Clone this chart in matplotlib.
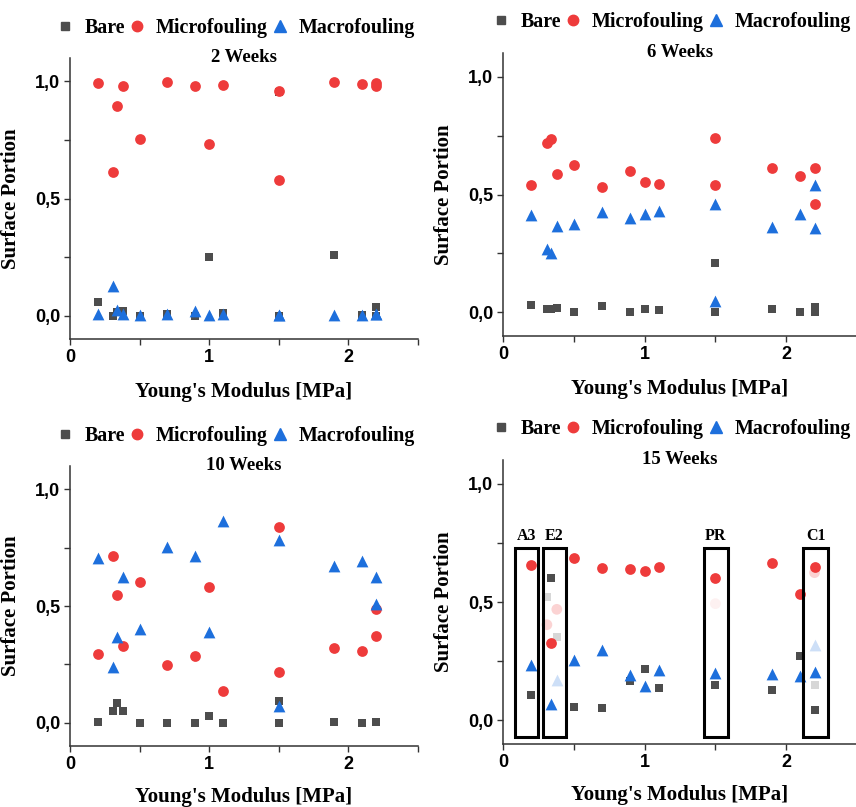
import matplotlib
matplotlib.use("Agg")
import matplotlib.pyplot as plt
from matplotlib.ticker import FixedLocator, FuncFormatter
from matplotlib.lines import Line2D
from matplotlib.patches import Rectangle

# ---------------- data ----------------
modulus = [0.2, 0.31, 0.34, 0.38, 0.5, 0.7, 0.9, 1.0, 1.1, 1.5, 1.5, 1.9, 2.1, 2.2, 2.2]

w2_bare = [0.06, 0.0, 0.015, 0.02, 0.0, 0.007, 0.0, 0.25, 0.011, 0.953, 0.0, 0.26, 0.003, 0.036, 0.0]
w2_micro = [0.993, 0.612, 0.895, 0.981, 0.755, 0.996, 0.981, 0.731, 0.984, 0.958, 0.58, 0.996, 0.987, 0.993, 0.981]
w2_macro = [0.007, 0.125, 0.024, 0.007, 0.003, 0.007, 0.02, 0.004, 0.007, 0.003, 0.003, 0.004, 0.004, 0.007, 0.007]

w6_bare = [0.031, 0.015, 0.013, 0.02, 0.003, 0.027, 0.0, 0.015, 0.01, 0.211, 0.003, 0.015, 0.0, 0.021, 0.0]
w6_micro = [0.542, 0.717, 0.734, 0.587, 0.625, 0.532, 0.601, 0.555, 0.545, 0.739, 0.539, 0.611, 0.577, 0.613, 0.46]
w6_macro = [0.411, 0.27, 0.254, 0.366, 0.373, 0.425, 0.401, 0.418, 0.432, 0.458, 0.049, 0.362, 0.418, 0.541, 0.358]

w10_bare = [0.004, 0.052, 0.086, 0.052, 0.0, 0.0, 0.0, 0.03, 0.0, 0.093, 0.0, 0.004, 0.0, 0.001, 0.001]
w10_micro = [0.295, 0.713, 0.549, 0.327, 0.603, 0.246, 0.285, 0.583, 0.136, 0.84, 0.216, 0.321, 0.309, 0.487, 0.371]
w10_macro = [0.705, 0.238, 0.367, 0.625, 0.401, 0.754, 0.716, 0.388, 0.865, 0.785, 0.073, 0.673, 0.695, 0.625, 0.51]

w15_modulus = [0.2, 0.34, 0.5, 0.7, 0.9, 1.0, 1.1, 1.5, 1.9, 2.1, 2.2]
w15_bare = [0.106, 0.6, 0.055, 0.054, 0.166, 0.218, 0.137, 0.151, 0.13, 0.27, 0.042]
w15_micro = [0.655, 0.327, 0.686, 0.645, 0.641, 0.632, 0.646, 0.601, 0.665, 0.535, 0.646]
w15_macro = [0.232, 0.07, 0.256, 0.299, 0.19, 0.144, 0.211, 0.201, 0.197, 0.187, 0.204]

# faded (excluded) replicates in the 15-week panel
w15_faded_bare_x = [0.31, 0.38, 2.2]
w15_faded_bare = [0.521, 0.352, 0.151]
w15_faded_micro_x = [0.31, 0.38, 1.5, 2.2]
w15_faded_micro = [0.404, 0.469, 0.493, 0.624]
w15_faded_macro_x = [0.38, 2.2]
w15_faded_macro = [0.172, 0.317]

# highlighted samples (15 weeks)
box_labels = ["A3", "E2", "PR", "C1"]
box_x0 = [0.085, 0.28, 1.416, 2.122]
box_x1 = [0.25, 0.442, 1.588, 2.294]
box_y0 = -0.07
box_y1 = 0.73

titles = ["2 Weeks", "6 Weeks", "10 Weeks", "15 Weeks"]
series_names = ["Bare", "Microfouling", "Macrofouling"]

# ---------------- style ----------------
C_BARE = "#4d4d4d"
C_MICRO = "#ee3b3b"
C_MACRO = "#1d6fdc"
SERIF = ["Liberation Serif", "DejaVu Serif"]
SANS = ["Liberation Sans", "DejaVu Sans"]

S_SQ = 38
S_CI = 60
S_TR = 72

W, H = 856, 807
fig = plt.figure(figsize=(W / 100, H / 100), dpi=100)

# axes rectangles in pixels: (left, top, right, bottom)
rects = [
    (70, 58, 418, 339),
    (503, 53, 857, 336),
    (70, 466, 418, 746),
    (503, 460, 857, 744),
]

datasets = [
    (modulus, w2_bare, w2_micro, w2_macro),
    (modulus, w6_bare, w6_micro, w6_macro),
    (modulus, w10_bare, w10_micro, w10_macro),
    (w15_modulus, w15_bare, w15_micro, w15_macro),
]

fmt = FuncFormatter(lambda v, p: f"{v:.1f}".replace(".", ","))

for i, (rect, data, title) in enumerate(zip(rects, datasets, titles)):
    l, t, r, b = rect
    ax = fig.add_axes([l / W, 1 - b / H, (r - l) / W, (b - t) / H])
    x, bare, micro, macro = data

    if i == 3:
        ax.scatter(w15_faded_bare_x, w15_faded_bare, marker="s", s=S_SQ, color=C_BARE,
                   alpha=0.22, linewidths=0, zorder=2)
        ax.scatter(w15_faded_micro_x, w15_faded_micro, marker="o", s=S_CI, color=C_MICRO,
                   alpha=[0.22, 0.22, 0.07, 0.22], linewidths=0, zorder=2)
        ax.scatter(w15_faded_macro_x, w15_faded_macro, marker="^", s=S_TR, color=C_MACRO,
                   alpha=0.22, linewidths=0, zorder=2)

    ax.scatter(x, bare, marker="s", s=S_SQ, color=C_BARE, linewidths=0, zorder=3)
    ax.scatter(x, micro, marker="o", s=S_CI, color=C_MICRO, linewidths=0, zorder=4)
    ax.scatter(x, macro, marker="^", s=S_TR, color=C_MACRO, linewidths=0, zorder=5)

    if i == 3:
        for lab, x0, x1 in zip(box_labels, box_x0, box_x1):
            ax.add_patch(Rectangle((x0, box_y0), x1 - x0, box_y1 - box_y0, fill=False,
                                   edgecolor="black", linewidth=2.2, zorder=6))
            ax.text((x0 + x1) / 2, box_y1 + 0.05, lab, ha="center", va="center",
                    fontsize=11.5, fontweight="bold", family=SERIF)

    ax.set_xlim(0, 2.5)
    ax.set_ylim(-0.1, 1.1)
    for side in ("top", "right"):
        ax.spines[side].set_visible(False)
    for side in ("left", "bottom"):
        ax.spines[side].set_color("#333333")
        ax.spines[side].set_linewidth(1.1)

    ax.xaxis.set_major_locator(FixedLocator([0, 1, 2]))
    ax.xaxis.set_minor_locator(FixedLocator([0.5, 1.5, 2.5]))
    ax.yaxis.set_major_locator(FixedLocator([0, 0.5, 1.0]))
    ax.yaxis.set_minor_locator(FixedLocator([0.25, 0.75]))
    ax.yaxis.set_major_formatter(fmt)
    ax.tick_params(which="both", direction="out", length=4, width=1.0, color="#333333")
    ax.tick_params(which="major", labelsize=13, pad=3)
    for lbl in ax.get_xticklabels() + ax.get_yticklabels():
        lbl.set_fontweight("bold")
        lbl.set_family(SANS)

    ax.set_xlabel("Young's Modulus [MPa]", fontsize=15, fontweight="bold", family=SERIF,
                  labelpad=12 if i < 2 else 10)
    ax.set_ylabel("Surface Portion", fontsize=15, fontweight="bold", family=SERIF,
                  labelpad=10)

    ax.text(0.5, 1.002, title, transform=ax.transAxes, ha="center", va="center",
            fontsize=13.5, fontweight="bold", family=SERIF)

    handles = [
        Line2D([], [], marker="s", linestyle="", color=C_BARE, markersize=6),
        Line2D([], [], marker="o", linestyle="", color=C_MICRO, markersize=7.5),
        Line2D([], [], marker="^", linestyle="", color=C_MACRO, markersize=8),
    ]
    ax.legend(handles, series_names, loc="center", bbox_to_anchor=(0.475, 1.108), ncol=3,
              frameon=False, handlelength=1.0, handletextpad=0.45, columnspacing=0.1,
              prop={"family": SERIF, "weight": "bold", "size": 14.4},
              borderaxespad=0, borderpad=0)

fig.savefig("out.png", dpi=100)
